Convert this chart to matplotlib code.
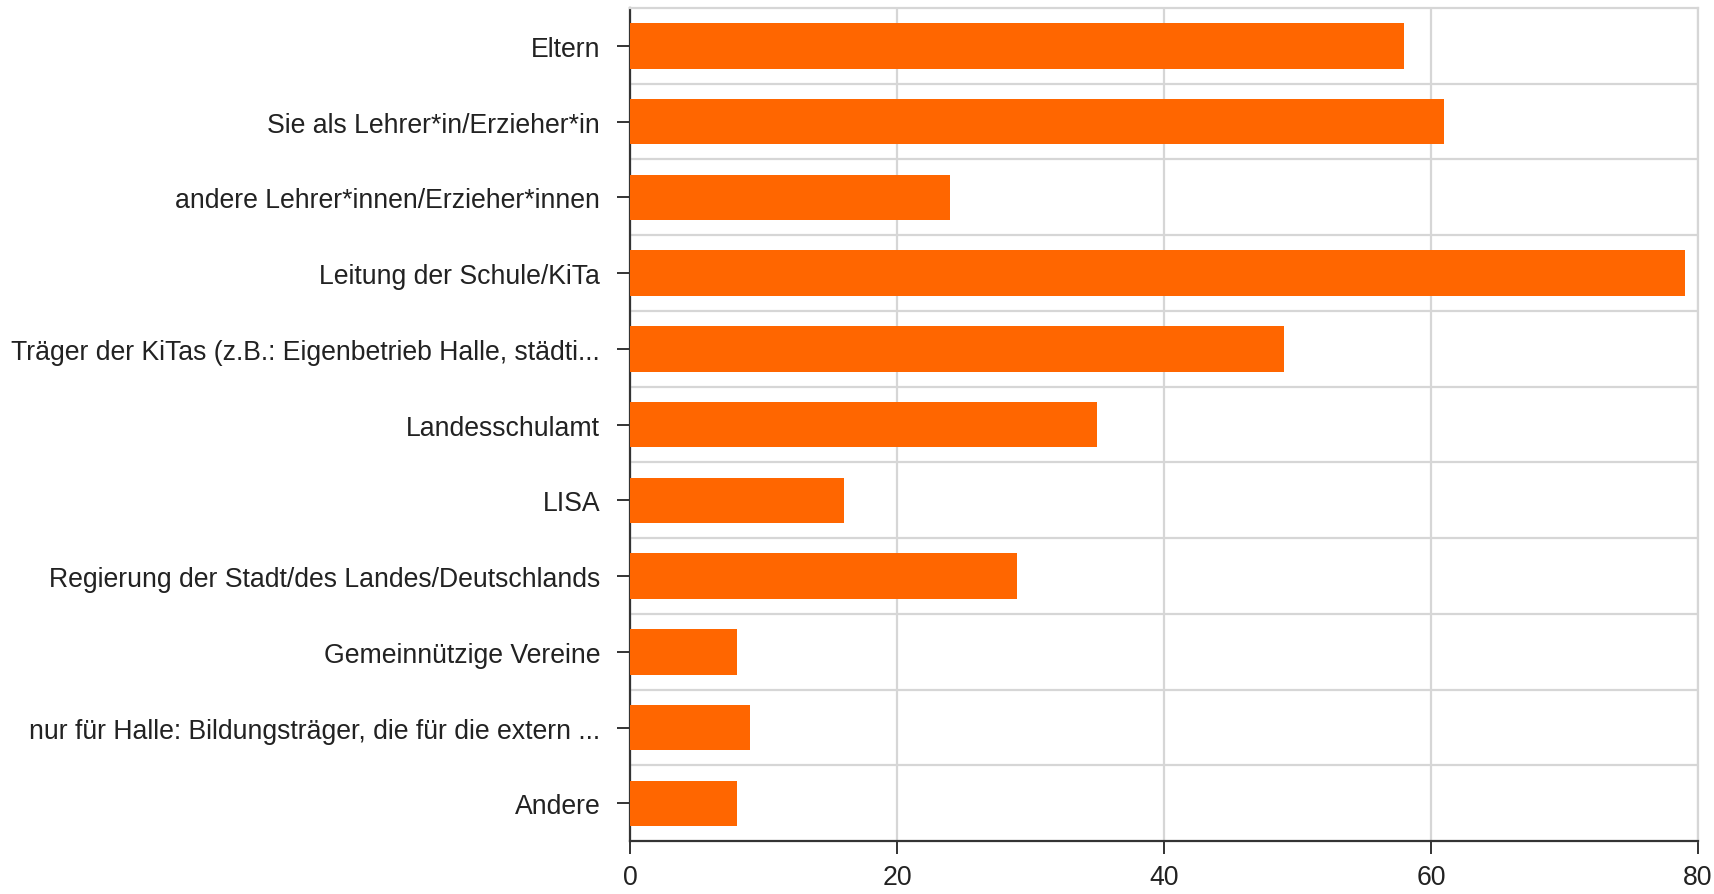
import matplotlib
matplotlib.use("Agg")
import matplotlib.pyplot as plt
import numpy as np

# answer categories, top to bottom
categories = [
    "Eltern",
    "Sie als Lehrer*in/Erzieher*in",
    "andere Lehrer*innen/Erzieher*innen",
    "Leitung der Schule/KiTa",
    "Träger der KiTas (z.B.: Eigenbetrieb Halle, städti...",
    "Landesschulamt",
    "LISA",
    "Regierung der Stadt/des Landes/Deutschlands",
    "Gemeinnützige Vereine",
    "nur für Halle: Bildungsträger, die für die extern ...",
    "Andere",
]
counts = [58, 61, 24, 79, 49, 35, 16, 29, 8, 9, 8]
x_ticks = [0, 20, 40, 60, 80]

BAR_COLOR = "#ff6600"
GRID_COLOR = "#d6d6d6"
AXIS_COLOR = "#333333"
TEXT_COLOR = "#222222"

plt.rcParams["font.family"] = ["Liberation Sans", "DejaVu Sans"]

fig = plt.figure(figsize=(17.14, 8.95), dpi=100)
ax = fig.add_axes([0.3676, 0.059, 0.6231, 0.931])

y = np.arange(len(categories))
ax.barh(y, counts, height=0.6, color=BAR_COLOR, zorder=3)

ax.set_xlim(0, 80)
ax.set_ylim(len(categories) - 0.5, -0.5)

ax.set_yticks(y)
ax.set_yticklabels(categories)
ax.set_xticks(x_ticks)
ax.set_xticklabels([str(t) for t in x_ticks])

# row separators sit between the categories
ax.set_yticks(np.arange(len(categories) - 1) + 0.5, minor=True)
ax.tick_params(axis="y", which="minor", length=0)
ax.grid(axis="y", which="minor", color=GRID_COLOR, linewidth=1.6, zorder=0)
ax.grid(axis="x", which="major", color=GRID_COLOR, linewidth=1.6, zorder=0)

ax.tick_params(axis="both", which="major", direction="out", length=9.5,
               width=1.4, color=AXIS_COLOR, labelsize=19.2,
               labelcolor=TEXT_COLOR)
ax.tick_params(axis="y", which="major", pad=12)
ax.tick_params(axis="x", which="major", pad=7)

for side in ["left", "bottom"]:
    ax.spines[side].set_color(AXIS_COLOR)
    ax.spines[side].set_linewidth(1.6)
for side in ["top", "right"]:
    ax.spines[side].set_color(GRID_COLOR)
    ax.spines[side].set_linewidth(1.6)

fig.savefig("out.png", dpi=100)
